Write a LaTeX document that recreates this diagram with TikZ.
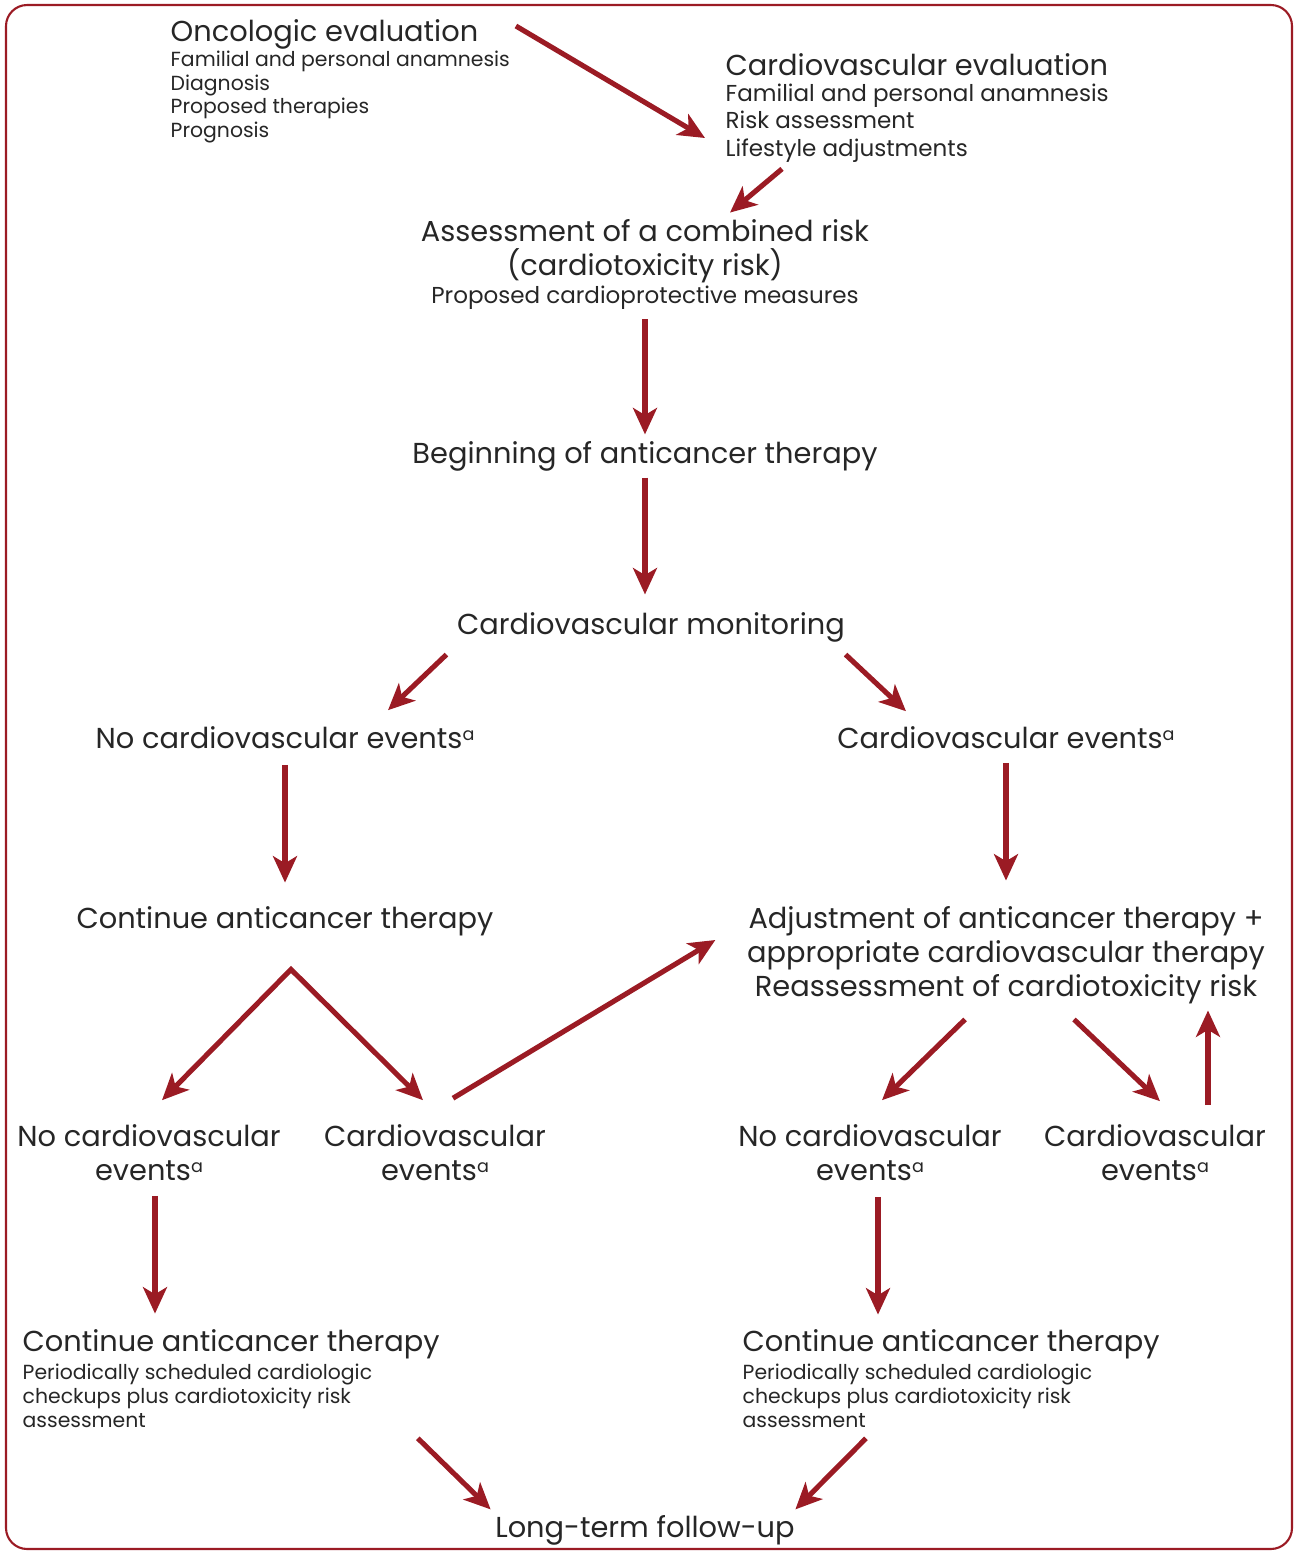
\documentclass[tikz,border=0pt]{standalone}
\usepackage{fontspec}
\setmainfont{Poppins}
\usetikzlibrary{arrows.meta}
\definecolor{cvred}{HTML}{9B1B24}
\definecolor{ink}{HTML}{262626}
\newcommand{\evnote}{\raisebox{0.55ex}{\fontsize{5}{5}\selectfont a}}

\begin{document}
\begin{tikzpicture}[x=0.01cm,y=-0.01cm,
  every node/.style={inner sep=0pt,text=ink},
  bigtxt/.style={font=\fontsize{8.2}{9.67}\selectfont},
  midtxt/.style={font=\fontsize{6.55}{7.8}\selectfont},
  smalltxt/.style={font=\fontsize{5.8}{6.75}\selectfont},
  flow/.style={draw=cvred,line width=1.45pt,-{Stealth[length=7.5pt,width=6.8pt,inset=2pt]}}]
  \useasboundingbox (0,0) rectangle (1293,1551);
  \draw[cvred,line width=0.6pt,rounded corners=6pt] (6,5) rectangle (1292,1549);

  % evaluations
  \node[bigtxt,anchor=west] (oncot) at (170,34) {Oncologic evaluation};
  \node[smalltxt,anchor=west,align=left] (oncol) at (170,97) {Familial and personal anamnesis\\Diagnosis\\Proposed therapies\\Prognosis};
  \node[bigtxt,anchor=west] (cvet) at (725,65) {Cardiovascular evaluation};
  \node[midtxt,anchor=west,align=left] (cvel) at (725,123) {Familial and personal anamnesis\\Risk assessment\\Lifestyle adjustments};

  % combined risk and therapy start
  \node[bigtxt,align=center] (combt) at (645,251) {Assessment of a combined risk\\(cardiotoxicity risk)};
  \node[midtxt] (combs) at (645,298) {Proposed cardioprotective measures};
  \node[bigtxt] (begin) at (645,456) {Beginning of anticancer therapy};
  \node[bigtxt] (mon) at (651,627) {Cardiovascular monitoring};

  % first branch
  \node[bigtxt] (noev) at (285,738) {No cardiovascular events\evnote};
  \node[bigtxt] (ev) at (1006,738) {Cardiovascular events\evnote};
  \node[bigtxt] (cont) at (285,921) {Continue anticancer therapy};
  \node[bigtxt,align=center] (adj) at (1006,955) {Adjustment of anticancer therapy +\\appropriate cardiovascular therapy\\Reassessment of cardiotoxicity risk};

  % second branch
  \node[bigtxt,align=center] (noevl) at (149,1153) {No cardiovascular\\events\evnote};
  \node[bigtxt,align=center] (evl) at (435,1153) {Cardiovascular\\events\evnote};
  \node[bigtxt,align=center] (noevr) at (870,1153) {No cardiovascular\\events\evnote};
  \node[bigtxt,align=center] (evr) at (1155,1153) {Cardiovascular\\events\evnote};

  % continuation and follow-up
  \node[bigtxt,anchor=west] (contlt) at (22,1344) {Continue anticancer therapy};
  \node[smalltxt,anchor=west,align=left] (contls) at (22,1396) {Periodically scheduled cardiologic\\checkups plus cardiotoxicity risk\\assessment};
  \node[bigtxt,anchor=west] (contrt) at (742,1344) {Continue anticancer therapy};
  \node[smalltxt,anchor=west,align=left] (contrs) at (742,1396) {Periodically scheduled cardiologic\\checkups plus cardiotoxicity risk\\assessment};
  \node[bigtxt] (follow) at (645,1530) {Long-term follow-up};

  % arrows
  \draw[flow] ([shift={(37,-8)}]oncot.east) -- ([shift={(-20,15)}]cvel.west);
  \draw[flow] ([shift={(57,6)}]cvel.south west) -- ([shift={(85,-6)}]combt.north);
  \draw[flow] ([shift={(0,9)}]combs.south) -- ([shift={(0,-6)}]begin.north);
  \draw[flow] ([shift={(0,6)}]begin.south) -- ([shift={(-6,-17)}]mon.north);
  \draw[flow] ([shift={(-10,12)}]mon.south west) -- ([shift={(103,-16)}]noev.north);
  \draw[flow] ([shift={(0,12)}]mon.south east) -- ([shift={(-100,-15)}]ev.north);
  \draw[flow] ([shift={(0,15)}]noev.south) -- ([shift={(0,-23)}]cont.north);
  \draw[flow] ([shift={(0,13)}]ev.south) -- ([shift={(0,-25)}]adj.north);
  \draw[{Stealth[length=7.5pt,width=6.8pt,inset=2pt]}-{Stealth[length=7.5pt,width=6.8pt,inset=2pt]},draw=cvred,line width=1.45pt]
    ([shift={(13,-24)}]noevl.north) -- ([shift={(6,33)}]cont.south) -- ([shift={(-12,-24)}]evl.north);
  \draw[flow] ([shift={(18,-26)}]evl.north) -- ([shift={(-31,-15)}]adj.west);
  \draw[flow] ([shift={(-41,15)}]adj.south) -- ([shift={(12,-24)}]noevr.north);
  \draw[flow] ([shift={(68,15)}]adj.south) -- ([shift={(5,-23)}]evr.north);
  \draw[flow] ([shift={(53,-19)}]evr.north) -- ([shift={(53,6)}]evr.north |- adj.south);
  \draw[flow] ([shift={(6,14)}]noevl.south) -- ([shift={(133,-15)}]contlt.north west);
  \draw[flow] ([shift={(8,15)}]noevr.south) -- ([shift={(136,-14)}]contrt.north west);
  \draw[flow] ([shift={(45,10)}]contls.south east) -- ([shift={(-4,-5)}]follow.north west);
  \draw[flow] ([shift={(124,10)}]contrs.south west) -- ([shift={(0,-5)}]follow.north east);
\end{tikzpicture}
\end{document}
